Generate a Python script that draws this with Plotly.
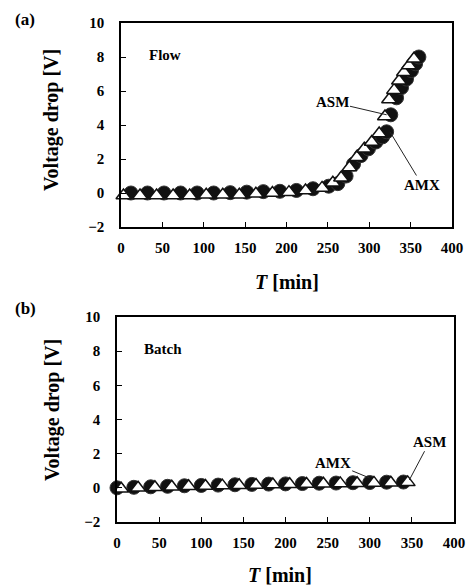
import plotly.graph_objects as go

# ---- Data: (a) Flow ----
flow_asm_t = [3, 23, 43, 63, 83, 103, 123, 143, 163, 183, 203, 223, 243, 256, 266, 276, 285, 294, 303, 312, 319, 324, 330, 336, 342, 348, 354]
flow_asm_v = [-0.15, -0.15, -0.15, -0.15, -0.15, -0.1, -0.1, -0.1, -0.05, 0.0, 0.05, 0.15, 0.3, 0.6, 0.9, 1.5, 2.1, 2.6, 3.0, 3.5, 4.5, 5.5, 6.05, 6.6, 7.1, 7.5, 7.9]
flow_amx_t = [12, 32, 52, 72, 92, 112, 132, 152, 172, 192, 212, 232, 251, 262, 272, 281, 290, 299, 308, 316, 321, 326, 333, 339, 345, 351, 356, 360]
flow_amx_v = [0.0, 0.0, 0.0, 0.0, 0.0, 0.0, 0.02, 0.05, 0.08, 0.1, 0.15, 0.25, 0.4, 0.55, 1.0, 1.7, 2.2, 2.6, 3.0, 3.3, 3.6, 4.6, 5.6, 6.2, 6.7, 7.2, 7.6, 8.0]

# ---- Data: (b) Batch ----
batch_amx_t = [0, 20, 40, 60, 80, 100, 120, 140, 160, 180, 200, 220, 240, 260, 280, 300, 320, 340]
batch_amx_v = [0.0, 0.03, 0.06, 0.09, 0.12, 0.14, 0.16, 0.18, 0.2, 0.22, 0.23, 0.25, 0.27, 0.28, 0.3, 0.31, 0.33, 0.34]
batch_asm_t = [5, 25, 45, 65, 85, 105, 125, 145, 165, 185, 205, 225, 245, 265, 285, 305, 325, 345]
batch_asm_v = [-0.05, 0.0, 0.03, 0.06, 0.09, 0.11, 0.13, 0.15, 0.17, 0.19, 0.21, 0.22, 0.24, 0.26, 0.27, 0.29, 0.3, 0.32]

x_ticks = [0, 50, 100, 150, 200, 250, 300, 350, 400]
y_ticks = [-2, 0, 2, 4, 6, 8, 10]

FONT = "Liberation Serif"
W, H = 467, 586

circle_marker = dict(symbol="circle", size=14, color="#111111", line=dict(color="#333333", width=1))
tri_marker = dict(symbol="triangle-up", size=13, color="white", line=dict(color="#111111", width=1.5))

fig = go.Figure()
# panel a
fig.add_trace(go.Scatter(x=flow_amx_t, y=flow_amx_v, mode="markers", marker=circle_marker,
                         xaxis="x", yaxis="y", cliponaxis=False, showlegend=False))
fig.add_trace(go.Scatter(x=flow_asm_t, y=flow_asm_v, mode="markers", marker=tri_marker,
                         xaxis="x", yaxis="y", cliponaxis=False, showlegend=False))
# panel b
fig.add_trace(go.Scatter(x=batch_amx_t, y=batch_amx_v, mode="markers", marker=circle_marker,
                         xaxis="x2", yaxis="y2", cliponaxis=False, showlegend=False))
fig.add_trace(go.Scatter(x=batch_asm_t, y=batch_asm_v, mode="markers", marker=tri_marker,
                         xaxis="x2", yaxis="y2", cliponaxis=False, showlegend=False))

def xax(domain, anchor):
    return dict(domain=domain, anchor=anchor, range=[0, 400], tickmode="array", tickvals=x_ticks,
                ticks="inside", ticklen=5, tickwidth=1.2, tickcolor="black", automargin=False,
                showline=True, linecolor="black", linewidth=1.5, mirror=True,
                showgrid=False, zeroline=False, ticklabelstandoff=6,
                tickfont=dict(family=FONT, size=15, color="black", weight="bold"))

def yax(domain, anchor):
    return dict(domain=domain, anchor=anchor, range=[-2, 10], tickmode="array", tickvals=y_ticks,
                ticks="inside", ticklen=5, tickwidth=1.2, tickcolor="black", automargin=False,
                showline=True, linecolor="black", linewidth=1.5, mirror=True,
                showgrid=False, zeroline=False, ticklabelstandoff=12,
                tickfont=dict(family=FONT, size=15, color="black", weight="bold"))

fig.update_layout(
    template="none",
    width=W, height=H, margin=dict(l=0, r=0, t=0, b=0, pad=0),
    paper_bgcolor="white", plot_bgcolor="white",
    font=dict(family=FONT, color="black"),
    xaxis=xax([121 / W, 452 / W], "y"),
    yaxis=yax([1 - 227 / H, 1 - 23 / H], "x"),
    xaxis2=xax([117 / W, 454 / W], "y2"),
    yaxis2=yax([1 - 522 / H, 1 - 317 / H], "x2"),
)

ann = []
def ptxt(text, x, y, size, **kw):
    ann.append(dict(text=text, x=x, y=y, xref="paper", yref="paper", showarrow=False,
                    xanchor="center", yanchor="middle",
                    font=dict(family=FONT, size=size, color="black", weight="bold"), **kw))

ptxt("(a)", 25 / W, 1 - 20 / H, 17)
ptxt("(b)", 25 / W, 1 - 308 / H, 17)
ptxt("Voltage drop [V]", 52 / W, 1 - 120 / H, 20, textangle=-90)
ptxt("Voltage drop [V]", 52 / W, 1 - 410 / H, 20, textangle=-90)
ptxt("<i>T</i> [min]", 287 / W, 1 - 282 / H, 20)
ptxt("<i>T</i> [min]", 280 / W, 1 - 575 / H, 20)

def dtxt(text, x, y, xr, yr, size=15, **kw):
    ann.append(dict(text=text, x=x, y=y, xref=xr, yref=yr, showarrow=False, yanchor="middle",
                    font=dict(family=FONT, size=size, color="black", weight="bold"), **kw))

dtxt("Flow", 32, 8.1, "x", "y", xanchor="left")
dtxt("Batch", 30, 8.1, "x2", "y2", xanchor="left")

def arrow(text, hx, hy, tx, ty, xr, yr):
    ann.append(dict(text=text, x=hx, y=hy, ax=tx, ay=ty, xref=xr, yref=yr, axref=xr, ayref=yr,
                    showarrow=True, arrowhead=0, arrowwidth=1, arrowcolor="#222222",
                    font=dict(family=FONT, size=15, color="black", weight="bold")))

arrow("ASM", 321, 4.6, 255, 5.35, "x", "y")
arrow("AMX", 325, 3.6, 364, 0.47, "x", "y")
arrow("AMX", 300, 0.57, 256, 1.47, "x2", "y2")
arrow("ASM", 347, 0.46, 371, 2.7, "x2", "y2")

fig.update_layout(annotations=ann)
fig.write_html("out.html")
